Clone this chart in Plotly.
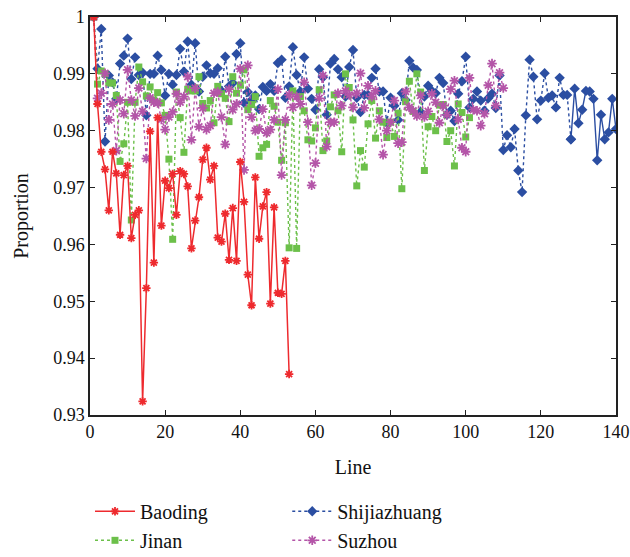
import plotly.graph_objects as go

baoding = [1.0, 0.9847, 0.9763, 0.9732, 0.966, 0.9763, 0.9725, 0.9617, 0.9722, 0.9738,
           0.9611, 0.9652, 0.966, 0.9324, 0.9523, 0.9799, 0.9568, 0.9823, 0.9633, 0.9712,
           0.9699, 0.9724, 0.9652, 0.9729, 0.9724, 0.9702, 0.9593, 0.9642, 0.9683, 0.9749,
           0.977, 0.9714, 0.9738, 0.9612, 0.9605, 0.9654, 0.9573, 0.9664, 0.9571, 0.9745,
           0.9675, 0.9547, 0.9493, 0.9718, 0.961, 0.9667, 0.9692, 0.9496, 0.9665, 0.9515,
           0.9513, 0.9571, 0.9372]

jinan = [1.0, 0.9882, 0.9905, 0.9900, 0.9884, 0.9884, 0.9862, 0.9746, 0.9777, 0.9850,
         0.9643, 0.9850, 0.9912, 0.9886, 0.9861, 0.9877, 0.9854, 0.9867, 0.9849, 0.9827,
         0.9750, 0.9609, 0.9868, 0.9823, 0.9762, 0.9873, 0.9870, 0.9870, 0.9895, 0.9848,
         0.9840, 0.9853, 0.9814, 0.9878, 0.9865, 0.9857, 0.9816, 0.9895, 0.9866, 0.9880,
         0.9907, 0.9837, 0.9846, 0.9860, 0.9755, 0.9770, 0.9776, 0.9853, 0.9843, 0.9815,
         0.9748, 0.9814, 0.9594, 0.9870, 0.9593, 0.9860, 0.9835, 0.9784, 0.9782, 0.9805,
         0.9872, 0.9765, 0.9782, 0.9842, 0.9863, 0.9835, 0.9763, 0.9900, 0.9876, 0.9819,
         0.9703, 0.9765, 0.9736, 0.9812, 0.9853, 0.9787, 0.9835, 0.9815, 0.9788, 0.9815,
         0.9790, 0.9831, 0.9698, 0.9851, 0.9887, 0.9834, 0.9900, 0.9868, 0.9730, 0.9807,
         0.9825, 0.9800, 0.9845, 0.9846, 0.9781, 0.9800, 0.9738, 0.9847, 0.9832, 0.9789,
         0.9823]

shijiazhuang = [1.0, 0.9909, 0.9979, 0.9781, 0.9897, 0.9885, 0.9856, 0.9918, 0.9932, 0.9962,
                0.9891, 0.9929, 0.9898, 0.9902, 0.9827, 0.9900, 0.9900, 0.9932, 0.9907, 0.9862,
                0.9900, 0.9881, 0.9898, 0.9944, 0.9904, 0.9957, 0.9881, 0.9954, 0.9869, 0.9895,
                0.9915, 0.9901, 0.9900, 0.9910, 0.9870, 0.9930, 0.9878, 0.9884, 0.9935, 0.9954,
                0.9849, 0.9868, 0.9854, 0.9862, 0.9838, 0.9877, 0.9870, 0.9882, 0.9870, 0.9919,
                0.9925, 0.9858, 0.9878, 0.9947, 0.9898, 0.9869, 0.9929, 0.9874, 0.9856, 0.9837,
                0.9908, 0.9894, 0.9828, 0.9918, 0.9926, 0.9908, 0.9894, 0.9860, 0.9912, 0.9942,
                0.9858, 0.9833, 0.9863, 0.9863, 0.9893, 0.9909, 0.9869, 0.9869, 0.9814, 0.9858,
                0.9844, 0.9819, 0.9866, 0.9854, 0.9923, 0.9911, 0.9907, 0.9833, 0.9860, 0.9879,
                0.9870, 0.9866, 0.9893, 0.9884, 0.9828, 0.9835, 0.9817, 0.9865, 0.9887, 0.9930,
                0.9841, 0.9856, 0.9869, 0.9853, 0.9835, 0.9857, 0.9865, 0.9840, 0.9897, 0.9766,
                0.9792, 0.9771, 0.9803, 0.9730, 0.9692, 0.9827, 0.9925, 0.9895, 0.9820, 0.9853,
                0.9901, 0.9858, 0.9862, 0.9841, 0.9893, 0.9863, 0.9863, 0.9785, 0.9874, 0.9813,
                0.9837, 0.9870, 0.9869, 0.9856, 0.9748, 0.9828, 0.9785, 0.9797, 0.9856, 0.9803]

suzhou = [1.0, 0.9857, 0.9866, 0.9901, 0.9819, 0.9847, 0.9765, 0.9854, 0.9830, 0.9907,
          0.9854, 0.9826, 0.9875, 0.9834, 0.9751, 0.9858, 0.9850, 0.9849, 0.9820, 0.9802,
          0.9824, 0.9833, 0.9865, 0.9850, 0.9860, 0.9895, 0.9784, 0.9875, 0.9807, 0.9840,
          0.9802, 0.9809, 0.9866, 0.9868, 0.9824, 0.9776, 0.9873, 0.9837, 0.9847, 0.9909,
          0.9731, 0.9915, 0.9824, 0.9800, 0.9803, 0.9838, 0.9796, 0.9802, 0.9819, 0.9873,
          0.9722, 0.9819, 0.9863, 0.9841, 0.9860, 0.9847, 0.9885, 0.9815, 0.9704, 0.9743,
          0.9857, 0.9897, 0.9772, 0.9815, 0.9815, 0.9866, 0.9844, 0.9870, 0.9863, 0.9841,
          0.9866, 0.9901, 0.9840, 0.9879, 0.9860, 0.9870, 0.9820, 0.9758, 0.9800, 0.9815,
          0.9853, 0.9778, 0.9780, 0.9869, 0.9841, 0.9835, 0.9826, 0.9862, 0.9824, 0.9834,
          0.9865, 0.9850, 0.9814, 0.9844, 0.9828, 0.9873, 0.9888, 0.9820, 0.9770, 0.9763,
          0.9893, 0.9837, 0.9835, 0.9809, 0.9830, 0.9880, 0.9918, 0.9844, 0.9902, 0.9875]

x_ticks = [0, 20, 40, 60, 80, 100, 120, 140]
y_ticks = [0.93, 0.94, 0.95, 0.96, 0.97, 0.98, 0.99, 1.0]
y_tick_labels = ["0.93", "0.94", "0.95", "0.96", "0.97", "0.98", "0.99", "1"]

RED = "#ee2a2e"
GREEN = "#6cc04a"
BLUE = "#2b4ea2"
MAGENTA = "#b455a8"
SERIF = "Liberation Serif, Times New Roman, DejaVu Serif, serif"

def xs(vals, start=1):
    return list(range(start, start + len(vals)))

fig = go.Figure()

solid_start = 128  # Shijiazhuang drawn solid from this line onward

fig.add_trace(go.Scatter(
    x=xs(shijiazhuang)[:solid_start], y=shijiazhuang[:solid_start], name="Shijiazhuang",
    mode="lines+markers", legend="legend2", legendrank=1,
    line=dict(color=BLUE, width=1.4, dash="dot"),
    marker=dict(symbol="diamond", size=8, color=BLUE)))
fig.add_trace(go.Scatter(
    x=xs(shijiazhuang)[solid_start - 1:], y=shijiazhuang[solid_start - 1:], name="Shijiazhuang",
    mode="lines+markers", showlegend=False,
    line=dict(color=BLUE, width=1.4),
    marker=dict(symbol="diamond", size=8, color=BLUE)))
fig.add_trace(go.Scatter(
    x=xs(jinan), y=jinan, name="Jinan", mode="lines+markers", legend="legend", legendrank=2,
    line=dict(color=GREEN, width=1.4, dash="dot"),
    marker=dict(symbol="square", size=7, color=GREEN)))
fig.add_trace(go.Scatter(
    x=xs(suzhou), y=suzhou, name="Suzhou", mode="lines+markers", legend="legend2", legendrank=2,
    line=dict(color=MAGENTA, width=1.4, dash="dot"),
    marker=dict(symbol="asterisk-open", size=8, color=MAGENTA, line=dict(width=1.8, color=MAGENTA))))
fig.add_trace(go.Scatter(
    x=xs(baoding), y=baoding, name="Baoding", mode="lines+markers", legend="legend", legendrank=1,
    line=dict(color=RED, width=1.5),
    marker=dict(symbol="asterisk-open", size=7, color=RED, line=dict(width=1.8, color=RED))))

axis_common = dict(
    showline=True, linecolor="#222222", linewidth=1.5, mirror="ticks",
    ticks="inside", ticklen=5, tickwidth=1.2, tickcolor="#222222",
    showgrid=False, zeroline=False, automargin=False,
    tickfont=dict(family=SERIF, size=18, color="#111111"),
)

legend_common = dict(
    orientation="v", xanchor="left", yanchor="top", y=-0.193,
    traceorder="normal", bgcolor="rgba(0,0,0,0)",
    font=dict(family=SERIF, size=20, color="#111111"),
    itemwidth=40, tracegroupgap=0,
)

fig.update_layout(
    width=630, height=557,
    margin=dict(l=90, r=14, t=17, b=142, autoexpand=False),
    paper_bgcolor="white", plot_bgcolor="white",
    font=dict(family=SERIF, size=18, color="#111111"),
    xaxis=dict(range=[0, 140], tickvals=x_ticks,
               title=dict(text="Line", font=dict(family=SERIF, size=20), standoff=19), **axis_common),
    yaxis=dict(range=[0.93, 1.0], tickvals=y_ticks, ticktext=y_tick_labels,
               title=dict(text="Proportion", font=dict(family=SERIF, size=20), standoff=19), **axis_common),
    legend=dict(x=0.0, **legend_common),
    legend2=dict(x=0.375, **legend_common),
)

fig.write_html("out.html", config={"displayModeBar": False},
               post_script="document.body.style.margin='0';document.body.style.overflow='hidden';")
